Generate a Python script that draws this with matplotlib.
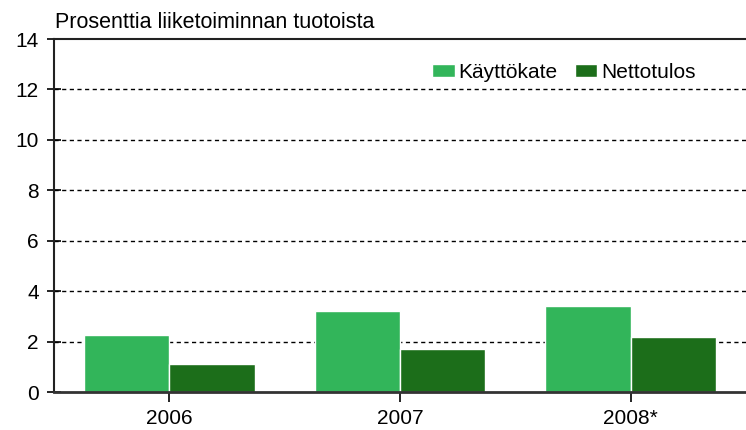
import matplotlib.pyplot as plt
import numpy as np

years = ["2006", "2007", "2008*"]
kayttokate = [2.26, 3.21, 3.41]
nettotulos = [1.11, 1.69, 2.19]

plt.rcParams["font.family"] = ["Liberation Sans", "DejaVu Sans"]

fig = plt.figure(figsize=(7.46, 4.30), dpi=100)
ax = fig.add_axes([54 / 746, 1 - 392 / 430, 692 / 746, 353 / 430])

x = np.arange(len(years))
w = 0.37
ax.bar(x - w, kayttokate, w, align="edge", color="#32B55A", edgecolor="white",
       linewidth=1, label="Käyttökate", zorder=3)
ax.bar(x, nettotulos, w, align="edge", color="#1C6E1A", edgecolor="white",
       linewidth=1, label="Nettotulos", zorder=3)

ax.set_xlim(-0.5, 2.5)
ax.set_ylim(0, 14)
ax.set_yticks(range(0, 15, 2))
ax.set_xticks(x)
ax.set_xticklabels(years)

# dashed grid, top is solid spine
for yv in range(2, 14, 2):
    ax.axhline(yv, color="black", lw=1, ls=(0, (3, 2.5)), zorder=1)

ax.spines["right"].set_visible(False)
ax.spines["top"].set_color("#222222")
ax.spines["top"].set_linewidth(1.5)
ax.spines["left"].set_color("#222222")
ax.spines["left"].set_linewidth(1.5)
ax.spines["bottom"].set_color("#333333")
ax.spines["bottom"].set_linewidth(2)
ax.spines["bottom"].set_zorder(4)

ax.tick_params(axis="y", direction="inout", length=10, width=1.2, labelsize=15, pad=6)
ax.tick_params(axis="x", direction="out", length=7, width=1.2, labelsize=15, pad=5)

fig.text(55 / 746, 1 - 22 / 430, "Prosenttia liiketoiminnan tuotoista",
         fontsize=15.5, va="center", ha="left")

ax.legend(loc="upper right", bbox_to_anchor=(0.955, 0.985), ncol=2, frameon=False,
          fontsize=15, handlelength=1.1, handleheight=0.6, handletextpad=0.2,
          columnspacing=0.8)

fig.savefig("out.png", dpi=100)
